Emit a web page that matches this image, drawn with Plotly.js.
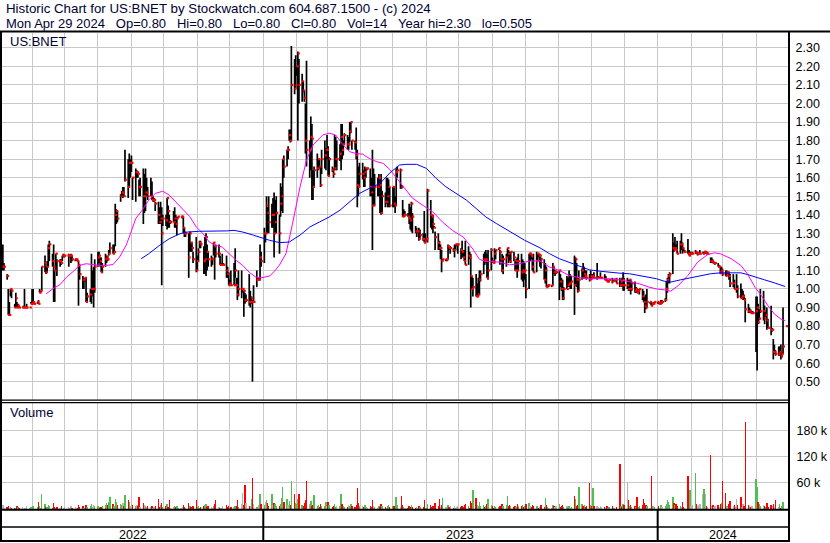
<!DOCTYPE html>
<html><head><meta charset="utf-8">
<script src="https://cdn.plot.ly/plotly-3.0.1.min.js"></script>
<style>html,body{margin:0;padding:0;background:#fff;}#chart{width:830px;height:543px;}</style>
</head><body><div id="chart"></div>
<script>
// ---------------- DATA ----------------
const firstTradingDay = "2022-05-05";   // trading days follow (Mon-Fri)
// prices in cents
const high = [
124,114,
108,100,93,100,100, 92,98,93,92,91, 90,91,100,90,92, 90,93,100,100,92, 93,94,100,99,112,
118,112,115,124,126, 119,124,110,119,116, 116,116,118,119,118, 118,119,118,119,118, 116,116,116,115,113,
107,106,106,106,98, 100,119,110,112,116, 120,120,117,117,114, 119,118,118,121,125, 124,124,146,143,142,
151,153,155,155,175, 170,173,170,172,160, 165,164,163,159,160, 165,162,165,160,155, 160,158,150,149,147,
147,144,147,144,140, 140,149,145,140,137, 142,144,140,139,139, 139,139,139,133,131, 130,131,125,125,120,
128,118,122,126,126, 123,128,130,124,120, 118,117,125,123,124, 124,118,114,119,114, 118,112,109,105,110,
114,122,106,106,110, 110,100,99,98,97, 108,99,96,94,102, 110,106,106,124,120, 133,130,150,144,150,
146,149,152,148,150, 140,157,155,170,172, 175,177,186,186,231, 224,226,220,228,224, 216,212,207,200,223,
180,193,189,164,166, 173,170,170,166,175, 180,176,183,177,171, 166,165,183,182,180, 178,189,189,180,184,
183,182,190,190,180, 180,187,175,166,168, 168,164,166,165,165, 165,160,175,165,162, 160,162,159,162,153,
152,160,160,159,155, 155,155,150,165,166, 165,156,148,143,142, 141,146,144,147,141, 134,133,131,133,132,
130,142,130,127,154, 148,140,140,134,131, 130,126,124,121,116, 116,116,124,123,123, 122,124,124,124,124,
122,126,121,121,126, 123,120,119,107,106, 108,103,106,110,110, 119,120,121,119,121, 122,117,115,122,121,
122,121,116,119,118, 119,122,121,120,120, 120,115,116,117,119, 119,116,115,114,108, 119,119,119,117,119,
120,119,119,119,117, 116,114,112,102,102, 102,114,112,110,110, 110,108,106,105,101, 107,106,110,108,107,
118,117,114,106,110, 111,114,112,110,110, 108,110,108,108,109, 114,107,106,109,106, 108,107,105,105,105,
106,105,105,105,106, 106,105,106,109,106, 106,105,105,105,104, 104,101,99,100,100, 100,99,96,97,100,
93,93,92,93,93, 93,93,93,94,94, 95,104,106,108,109, 130,125,128,124,126, 126,130,125,122,121,
127,121,120,120,120, 121,120,120,119,121, 120,120,120,120,120, 117,117,116,115,114, 114,113,112,112,111,
110,110,109,109,108, 108,105,100,108,102, 103,100,99,97,95, 92,90,89,88,88, 96,96,92,89,100,
99,91,88,90,84, 91,79,73,70,67, 69,69,70,66,90,
80];
const low = [
110,110,
105,86,86,96,95, 90,90,90,90,90, 90,90,90,90,90, 90,92,92,92,92, 92,92,98,98,99,
109,108,109,112,115, 112,93,93,110,107, 112,113,115,117,117, 118,112,117,114,115, 115,115,115,91,105,
100,100,104,93,93, 93,92,96,90,98, 112,114,112,109,109, 112,114,115,118,119, 119,119,123,135,136,
147,150,149,150,158, 149,155,160,163,148, 147,160,160,150,150, 135,141,142,150,148, 150,148,147,147,142,
135,135,135,102,134, 134,132,133,133,135, 136,133,133,129,138, 139,138,130,128,128, 106,120,120,120,114,
109,110,115,122,122, 108,108,107,110,112, 112,113,118,105,117, 117,113,113,113,113, 106,106,102,102,102,
102,106,102,94,96, 95,98,85,92,93, 91,90,92,50,93, 101,105,105,105,112, 114,125,130,130,130,
133,133,117,130,130, 119,139,142,141,160, 166,170,180,179,180, 205,208,215,180,200, 201,206,201,173,166,
160,164,148,148,155, 160,164,165,155,162, 165,164,170,161,161, 163,160,164,164,164, 169,164,170,172,178,
175,175,179,184,175, 175,170,144,150,155, 159,155,155,160,164, 150,150,121,145,145, 150,150,141,140,141,
144,146,144,144,144, 144,144,141,145,160, 154,154,139,139,139, 139,135,132,131,130, 130,128,130,126,127,
126,125,125,126,125, 133,132,130,133,121, 121,121,116,109,115, 115,115,116,121,119, 120,117,121,123,119,
116,117,117,115,113, 113,116,90,100,96, 96,96,96,97,104, 108,113,114,106,105, 110,114,114,114,116,
121,113,115,109,108, 112,117,114,115,114, 115,110,110,106,110, 105,104,101,105,95, 100,115,116,110,109,
109,115,117,112,111, 105,103,101,101,101, 101,102,108,107,108, 94,101,99,94,94, 100,101,101,100,100,
86,102,101,98,99, 105,106,106,106,105, 104,105,105,106,106, 105,106,106,106,106, 105,105,104,104,104,
103,104,104,104,103, 101,103,101,99,99, 100,99,99,97,99, 98,98,98,98,97, 94,93,87,89,90,
92,91,91,92,92, 92,92,92,92,92, 93,94,98,103,103, 108,120,121,121,119, 119,121,119,120,120,
119,118,118,119,119, 119,119,118,119,119, 119,119,119,119,119, 114,114,114,114,113, 112,112,108,109,107,
107,107,108,105,101, 101,100,100,98,95, 95,95,94,94,82, 87,87,87,87,87, 66,56,81,83,87,
83,81,85,78,79, 75,77,62,65,64, 64,64,62,63,65,
80];
const close = [
112,112,
107,86,86,100,99, 90,95,90,91,90, 90,90,90,90,90, 90,92,92,93,92, 93,92,98,99,112,
114,109,112,122,124, 115,112,110,119,115, 115,114,118,118,118, 118,118,118,118,116, 116,116,115,113,108,
105,105,106,93,96, 97,100,100,100,112, 117,118,115,109,112, 116,117,116,119,122, 119,120,140,142,138,
150,152,152,150,159, 155,168,168,168,160, 163,163,162,155,155, 150,150,152,152,150, 150,148,148,148,146,
140,136,138,130,138, 137,149,142,136,136, 136,138,135,138,139, 139,139,133,130,130, 117,130,125,122,116,
110,115,120,125,124, 115,116,128,120,116, 116,116,125,123,119, 119,113,113,113,113, 110,108,102,103,102,
102,110,102,97,100, 100,100,99,94,94, 93,93,95,93,93, 105,105,105,117,115, 130,130,145,141,136,
140,140,130,136,141, 130,146,150,170,166, 175,175,183,180,210, 208,210,220,227,210, 212,207,203,180,175,
175,182,181,155,164, 165,170,166,156,170, 172,175,175,161,170, 164,162,165,170,170, 173,182,175,178,183,
178,178,185,190,180, 179,172,156,155,162, 162,160,163,165,165, 155,152,145,145,155, 155,160,156,141,150,
147,147,150,155,145, 155,146,145,163,164, 164,155,139,140,140, 139,138,137,146,139, 131,131,131,127,129,
127,125,126,127,153, 140,139,135,133,128, 125,122,122,115,116, 116,116,123,122,122, 121,121,124,124,124,
121,120,117,115,113, 118,117,107,100,101, 96,96,97,105,108, 116,115,116,106,110, 121,115,114,119,121,
122,120,116,110,116, 117,122,119,115,120, 117,110,115,110,115, 109,110,109,110,100, 119,119,118,112,109,
115,119,118,118,116, 105,110,101,102,102, 102,112,109,109,109, 110,104,100,95,100, 100,102,103,103,104,
102,116,105,99,105, 110,106,108,107,106, 105,107,106,107,106, 106,106,106,106,106, 105,105,104,104,105,
104,105,105,105,103, 102,104,102,105,102, 102,100,105,100,103, 99,100,98,99,100, 96,93,91,90,93,
93,91,92,92,93, 93,92,92,93,93, 94,100,105,107,108, 122,121,122,121,119, 124,124,122,120,120,
119,118,119,119,119, 120,119,119,119,119, 119,120,120,119,119, 115,115,114,114,114, 112,112,109,110,108,
107,109,109,107,103, 103,100,100,100,96, 95,96,96,94,89, 88,88,87,87,87, 88,90,82,84,88,
88,84,86,83,79, 78,78,66,66,65, 65,66,64,65,69,
80];
// volume in thousands of shares
const volume = [
9,3,
4,6,3,5,2, 3,2,6,4,2, 5,1,3,2,6, 2,4,3,8,1, 4,17,6,3,35,
12,5,4,9,6, 3,14,5,2,4, 2,6,1,3,5, 1,4,2,7,3, 5,2,3,10,4,
6,3,2,9,4, 7,12,5,10,8, 6,4,3,5,7, 9,13,10,15,28, 12,8,24,16,10,
12,9,14,7,32, 20,15,8,11,9, 6,10,7,28,5, 14,9,6,4,8, 5,7,3,4,6,
22,5,9,13,4, 6,12,4,20,3, 5,8,4,6,3, 2,4,9,5,3, 14,8,4,3,6,
21,5,7,3,4, 6,9,12,5,7, 4,3,8,11,20, 5,3,2,6,1, 9,4,7,3,5,
4,8,6,20,5, 12,37,9,55,14, 8,6,24,72,11, 5,3,9,35,12, 10,16,20,14,8,
35,9,14,12,7, 6,12,26,51,15, 22,9,18,10,64, 34,14,12,22,35, 10,8,14,20,65,
12,18,8,9,32, 6,10,5,12,8, 7,15,6,15,9, 4,8,12,5,7, 6,35,11,8,5,
4,9,6,12,7, 5,10,49,14,8, 6,4,9,5,3, 7,5,20,6,4, 3,8,5,11,6,
4,3,7,9,5, 6,8,4,28,9, 5,31,10,4,3, 2,6,4,9,5, 3,4,2,7,5,
4,20,3,2,12, 9,5,6,3,14, 7,22,4,10,26, 5,2,9,4,6, 3,7,2,5,8,
4,6,5,9,12, 6,3,18,13,44, 26,9,7,15,6, 10,5,8,12,24, 9,6,3,7,5,
4,8,5,12,6, 9,30,7,10,6, 5,8,4,11,7, 6,9,4,8,12, 14,7,5,10,6,
6,8,3,5,9, 4,26,9,5,3, 2,10,7,4,6, 12,5,8,9,4, 6,4,7,3,5,
30,22,8,10,50, 12,6,9,5,8, 60,10,7,49,6, 8,5,3,6,4, 5,3,6,2,4,
7,3,2,1,5, 104,8,5,12,9, 60,20,6,10,5, 7,4,27,5,6, 9,22,14,10,6,
2,77,8,6,4, 1,6,3,9,5, 8,12,20,15,10, 28,14,9,12,6, 8,5,16,4,3,
77,35,44,8,10, 84,12,6,9,12, 35,47,35,6,4, 125,8,10,5,7, 9,5,12,14,65,
36,8,5,12,18, 6,10,4,22,9, 28,5,12,7,200, 9,6,4,8,7, 68,50,15,12,8,
10,6,5,14,4, 9,6,12,4,20, 5,12,3,7,15,
0.014];
// moving averages
const maShortDates = ["2022-06-14","2022-06-20","2022-06-27","2022-07-03","2022-07-09","2022-07-15","2022-07-21","2022-07-28","2022-08-03","2022-08-09","2022-08-15","2022-08-21","2022-08-27","2022-08-30","2022-09-02","2022-09-05","2022-09-11","2022-09-17","2022-09-23","2022-09-30","2022-10-06","2022-10-12","2022-10-18","2022-10-25","2022-10-31","2022-11-06","2022-11-12","2022-11-18","2022-11-24","2022-12-01","2022-12-07","2022-12-13","2022-12-19","2022-12-25","2022-12-30","2023-01-07","2023-01-12","2023-01-16","2023-01-22","2023-01-28","2023-02-04","2023-02-10","2023-02-16","2023-02-25","2023-03-03","2023-03-09","2023-03-16","2023-03-22","2023-03-28","2023-04-03","2023-04-09","2023-04-16","2023-04-22","2023-04-28","2023-05-04","2023-05-10","2023-05-19","2023-05-29","2023-06-07","2023-06-16","2023-06-25","2023-07-05","2023-07-14","2023-07-20","2023-07-26","2023-08-08","2023-08-17","2023-08-26","2023-09-04","2023-09-14","2023-09-23","2023-10-02","2023-10-11","2023-10-21","2023-10-30","2023-11-08","2023-11-17","2023-11-27","2023-12-06","2023-12-15","2023-12-24","2023-12-31","2024-01-07","2024-01-13","2024-01-20","2024-01-29","2024-02-07","2024-02-16","2024-02-22","2024-02-28","2024-03-09","2024-03-18","2024-03-24","2024-03-31","2024-04-06","2024-04-12","2024-04-18","2024-04-24","2024-04-28"];
const maShortVals = [0.973,1.00,1.024,1.064,1.094,1.127,1.136,1.13,1.127,1.127,1.132,1.172,1.235,1.28,1.334,1.38,1.425,1.479,1.515,1.527,1.506,1.47,1.434,1.39,1.334,1.30,1.253,1.235,1.226,1.186,1.154,1.127,1.09,1.064,1.06,1.07,1.10,1.13,1.19,1.35,1.55,1.695,1.776,1.83,1.84,1.83,1.776,1.74,1.73,1.727,1.704,1.686,1.677,1.645,1.60,1.555,1.49,1.45,1.415,1.36,1.316,1.28,1.215,1.16,1.148,1.145,1.13,1.136,1.15,1.152,1.118,1.10,1.073,1.06,1.055,1.055,1.055,1.049,1.04,1.028,1.01,1.00,0.995,0.988,1.018,1.073,1.145,1.184,1.195,1.19,1.163,1.127,1.082,1.01,0.964,0.91,0.865,0.838,0.829];
const maLongDates = ["2022-09-10","2022-09-17","2022-09-27","2022-10-06","2022-10-16","2022-10-23","2022-11-03","2022-11-15","2022-11-28","2022-12-05","2022-12-13","2022-12-23","2022-12-30","2023-01-07","2023-01-16","2023-01-25","2023-02-04","2023-02-13","2023-02-22","2023-03-03","2023-03-13","2023-03-22","2023-03-31","2023-04-09","2023-04-19","2023-04-28","2023-05-07","2023-05-13","2023-05-23","2023-06-01","2023-06-10","2023-06-19","2023-06-29","2023-07-08","2023-07-17","2023-07-26","2023-08-05","2023-08-14","2023-08-23","2023-08-31","2023-09-14","2023-09-23","2023-10-02","2023-10-11","2023-10-21","2023-10-30","2023-11-08","2023-11-17","2023-11-27","2023-12-06","2023-12-15","2023-12-24","2023-12-31","2024-01-07","2024-01-13","2024-01-22","2024-02-01","2024-02-10","2024-02-19","2024-02-28","2024-03-09","2024-03-18","2024-03-24","2024-03-31","2024-04-09","2024-04-18","2024-04-28"];
const maLongVals = [1.163,1.19,1.235,1.271,1.298,1.307,1.311,1.311,1.313,1.316,1.307,1.29,1.277,1.262,1.25,1.253,1.29,1.334,1.361,1.388,1.425,1.47,1.515,1.542,1.569,1.625,1.668,1.672,1.672,1.65,1.596,1.551,1.511,1.479,1.434,1.388,1.352,1.32,1.289,1.262,1.222,1.19,1.163,1.145,1.121,1.103,1.096,1.09,1.085,1.082,1.073,1.06,1.055,1.042,1.037,1.049,1.06,1.073,1.082,1.087,1.087,1.087,1.078,1.064,1.049,1.033,1.013];
const yearLabels = ["2022","2023","2024"];
const yearStarts = ["2023-01-01","2024-01-01"];
const volTickVals = [60000,120000,180000];
const volTickText = ["60 k","120 k","180 k"];
const symbol = "US:BNET";
const headerLine1 = "Historic Chart for US:BNET by Stockwatch.com 604.687.1500 - (c) 2024";
const headerFields = ["Mon Apr 29 2024","Op=0.80","Hi=0.80","Lo=0.80","Cl=0.80","Vol=14","Year hi=2.30","lo=0.505"];

// ---------------- BUILD ----------------
const DAY = 86400000;
const W = 830, H = 543;
const px = v => v / W, py = v => 1 - v / H;
function fmt(ms){ return new Date(ms).toISOString().slice(0,19).replace('T',' '); }
const n = Math.min(high.length, low.length, close.length, volume.length);
const dates = [];
let t = Date.parse(firstTradingDay + "T00:00:00Z");
while (dates.length < n) { const wd = new Date(t).getUTCDay(); if (wd !== 0 && wd !== 6) dates.push(t); t += DAY; }

const bx = [], by = [];
for (let i = 0; i < n; i++) { bx.push(fmt(dates[i]), fmt(dates[i]), null); by.push(low[i]/100, high[i]/100, null); }
const cx = dates.map(d => fmt(d + 0.8*DAY));
const cy = close.slice(0,n).map(v => v/100);
const vx = dates.map(d => fmt(d));
const vy = volume.slice(0,n).map(v => v*1000);
const vcol = close.slice(0,n).map((c,i) => i===0 ? '#b4b4b4' : (c > close[i-1] ? '#4fc04f' : (c < close[i-1] ? '#ff0000' : '#b4b4b4')));

const xStart = dates[0] - 0.8*DAY, xEnd = dates[n-1] + 1.6*DAY;
const yStarts = yearStarts.map(s => Date.parse(s + "T00:00:00Z"));
const bounds = [xStart, ...yStarts, xEnd];
const yearMid = yearLabels.map((_, i) => fmt((bounds[i] + bounds[i+1]) / 2));

const traces = [
  {type:'scatter', mode:'lines', x:bx, y:by, line:{color:'#000', width:1.7}, xaxis:'x', yaxis:'y', hoverinfo:'skip', connectgaps:false},
  {type:'scatter', mode:'markers', x:cx, y:cy, marker:{symbol:'square', size:2.2, color:'#ff0000', line:{width:0}}, xaxis:'x', yaxis:'y', hoverinfo:'skip'},
  {type:'scatter', mode:'lines', x:maShortDates, y:maShortVals, line:{color:'#ff00ff', width:1}, xaxis:'x', yaxis:'y'},
  {type:'scatter', mode:'lines', x:maLongDates, y:maLongVals, line:{color:'#0000ff', width:1}, xaxis:'x', yaxis:'y'},
  {type:'bar', x:vx, y:vy, width:1.3*DAY, marker:{color:vcol, line:{width:0}}, xaxis:'x2', yaxis:'y2', hoverinfo:'skip'}
];

const font = '"Liberation Sans", Arial, sans-serif';
const gridC = '#c8c8c8';
const xCommon = {type:'date', range:[fmt(xStart), fmt(xEnd)], domain:[px(2), px(788)], showgrid:true, gridcolor:gridC, gridwidth:1,
  dtick:'M1', tick0:'2022-06-01', showticklabels:false, ticks:'', zeroline:false, showline:false, fixedrange:true};

const shapes = [];
function hline(y, x0, x1, w){ shapes.push({type:'line', xref:'paper', yref:'paper', x0:px(x0), x1:px(x1), y0:py(y), y1:py(y), line:{color:'#000', width:w}, layer:'above'}); }
function vline(x, y0, y1, w){ shapes.push({type:'line', xref:'paper', yref:'paper', x0:px(x), x1:px(x), y0:py(y0), y1:py(y1), line:{color:'#000', width:w}, layer:'above'}); }
hline(31.5, 0, 830, 2);
vline(1, 31, 542, 2);
vline(789, 31, 542, 2);
hline(400.2, 0, 789, 1.2);
hline(402.6, 0, 789, 1.2);
hline(509.8, 0, 789, 2);
hline(527, 0, 789, 1.6);
hline(541, 0, 789, 2);
yearStarts.forEach(s => shapes.push({type:'line', xref:'x', yref:'paper', x0:s, x1:s, y0:py(509.8), y1:py(541), line:{color:'#000', width:2}, layer:'above'}));

const S3 = '\u00a0\u00a0\u00a0';
const txtC = '#000033';
const annotations = [
  {text:headerLine1, xref:'paper', yref:'paper', x:px(4), y:py(8.5), xanchor:'left', yanchor:'middle', showarrow:false, font:{family:font, size:13.3, color:txtC}},
  {text:headerFields.join(S3), xref:'paper', yref:'paper', x:px(4), y:py(23.5), xanchor:'left', yanchor:'middle', showarrow:false, font:{family:font, size:13, color:txtC}},
  {text:symbol, xref:'paper', yref:'paper', x:px(8), y:py(41.5), xanchor:'left', yanchor:'middle', showarrow:false, font:{family:font, size:13, color:txtC}},
  {text:'Volume', xref:'paper', yref:'paper', x:px(8), y:py(413), xanchor:'left', yanchor:'middle', showarrow:false, font:{family:font, size:13, color:txtC}}
];
yearLabels.forEach((lab, i) => annotations.push({text:lab, xref:'x', yref:'paper', x:yearMid[i], y:py(535), xanchor:'center', yanchor:'middle', showarrow:false, font:{family:font, size:12.5, color:'#000'}}));

const layout = {
  width:W, height:H, margin:{l:0, r:0, t:0, b:0}, paper_bgcolor:'#fff', plot_bgcolor:'#fff', showlegend:false,
  font:{family:font, size:12, color:'#000'},
  xaxis: Object.assign({}, xCommon, {anchor:'y'}),
  xaxis2: Object.assign({}, xCommon, {anchor:'y2', matches:'x'}),
  yaxis: {domain:[py(400), py(32.5)], range:[0.4013, 2.3828], side:'right', tick0:0.5, dtick:0.1, tickformat:'.2f',
    showgrid:true, gridcolor:gridC, gridwidth:1, zeroline:false, showline:false, ticks:'outside', ticklen:4, tickcolor:'rgba(0,0,0,0)',
    tickfont:{family:font, size:12.5, color:'#000'}, fixedrange:true, anchor:'x'},
  yaxis2: {domain:[py(509), py(402.6)], range:[0, 245000], side:'right', tickvals:volTickVals, ticktext:volTickText,
    showgrid:true, gridcolor:gridC, gridwidth:1, zeroline:false, showline:false, ticks:'outside', ticklen:5, tickcolor:'rgba(0,0,0,0)',
    tickfont:{family:font, size:12.5, color:'#000'}, fixedrange:true, anchor:'x2'},
  bargap:0, shapes:shapes, annotations:annotations
};
Plotly.newPlot('chart', traces, layout, {staticPlot:true, displayModeBar:false});
</script>
</body></html>
